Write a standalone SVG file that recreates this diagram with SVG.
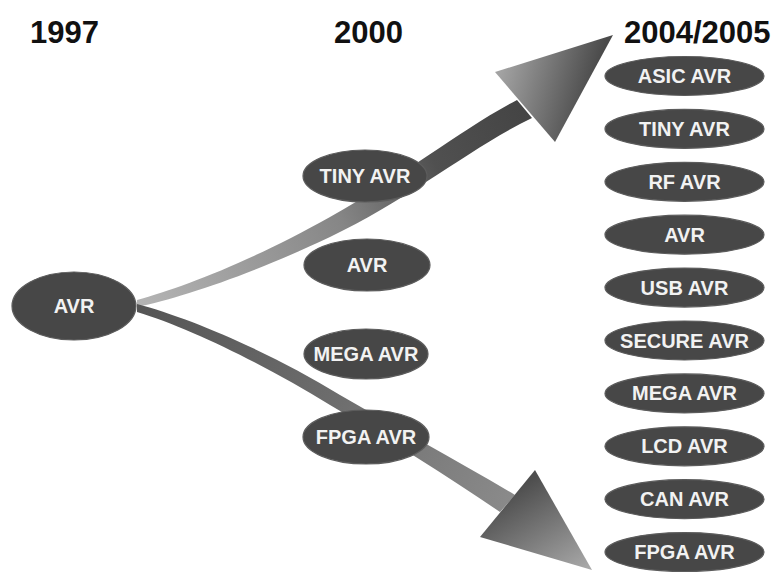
<svg xmlns="http://www.w3.org/2000/svg" width="774" height="572" viewBox="0 0 774 572">
<defs>
<linearGradient id="gUpShaft" gradientUnits="userSpaceOnUse" x1="137" y1="300" x2="530" y2="110">
<stop offset="0" stop-color="#b4b4b4"/>
<stop offset="0.5" stop-color="#868686"/>
<stop offset="0.75" stop-color="#505050"/>
<stop offset="1" stop-color="#444444"/>
</linearGradient>
<linearGradient id="gUpHead" gradientUnits="userSpaceOnUse" x1="500" y1="75" x2="590" y2="100">
<stop offset="0" stop-color="#a2a2a2"/>
<stop offset="1" stop-color="#4a4a4a"/>
</linearGradient>
<linearGradient id="gLoShaft" gradientUnits="userSpaceOnUse" x1="137" y1="308" x2="510" y2="500">
<stop offset="0" stop-color="#555555"/>
<stop offset="0.5" stop-color="#6c6c6c"/>
<stop offset="1" stop-color="#8a8a8a"/>
</linearGradient>
<linearGradient id="gLoHead" gradientUnits="userSpaceOnUse" x1="530" y1="480" x2="585" y2="570">
<stop offset="0" stop-color="#4e4e4e"/>
<stop offset="1" stop-color="#a8a8a8"/>
</linearGradient>
</defs>
<style>
.year{font-family:"Liberation Sans",Arial,sans-serif;font-weight:bold;font-size:31px;fill:#111}
.node ellipse{fill:#474747;stroke:#5c5c5c;stroke-width:1.2}
.node text{font-family:"Liberation Sans",Arial,sans-serif;font-weight:bold;font-size:20px;fill:#f2f2f2;text-anchor:middle}
</style>
<rect width="774" height="572" fill="#ffffff"/>
<g id="years">
<text class="year" x="30" y="43">1997</text>
<text class="year" x="334" y="43">2000</text>
<text class="year" x="624" y="43">2004/2005</text>
</g>
<g id="connectors">
<path d="M137,300 C180,288 250,262 330,217 C410,172 460,130 517,100 L532,118 C470,148 410,199 330,237 C250,275 180,298 137,307 Z" fill="url(#gUpShaft)"/>
<polygon points="613,35 495,72 555,142" fill="url(#gUpHead)"/>
<path d="M137,304 C190,318 270,352 340,395 C400,430 460,462 515,495 L500,512 C450,478 390,440 330,405 C265,365 190,328 137,312 Z" fill="url(#gLoShaft)"/>
<polygon points="592,570 535,470 480,537" fill="url(#gLoHead)"/>
</g>
<g id="n-avr1997" class="node"><ellipse cx="74" cy="306" rx="62" ry="34"/><text x="74" y="313">AVR</text></g>
<g id="n-tiny2000" class="node"><ellipse cx="365" cy="176" rx="62" ry="26"/><text x="365" y="183">TINY AVR</text></g>
<g id="n-avr2000" class="node"><ellipse cx="367" cy="265" rx="63" ry="26"/><text x="367" y="272">AVR</text></g>
<g id="n-mega2000" class="node"><ellipse cx="366" cy="354" rx="62" ry="25"/><text x="366" y="361">MEGA AVR</text></g>
<g id="n-fpga2000" class="node"><ellipse cx="366" cy="437" rx="63" ry="27"/><text x="366" y="444">FPGA AVR</text></g>
<g id="n-asic" class="node"><ellipse cx="684.5" cy="76" rx="79.5" ry="19.5"/><text x="684.5" y="83">ASIC AVR</text></g>
<g id="n-tiny" class="node"><ellipse cx="684.5" cy="128.9" rx="79.5" ry="19.5"/><text x="684.5" y="135.9">TINY AVR</text></g>
<g id="n-rf" class="node"><ellipse cx="684.5" cy="181.8" rx="79.5" ry="19.5"/><text x="684.5" y="188.8">RF AVR</text></g>
<g id="n-avr" class="node"><ellipse cx="684.5" cy="234.7" rx="79.5" ry="19.5"/><text x="684.5" y="241.7">AVR</text></g>
<g id="n-usb" class="node"><ellipse cx="684.5" cy="287.6" rx="79.5" ry="19.5"/><text x="684.5" y="294.6">USB AVR</text></g>
<g id="n-secure" class="node"><ellipse cx="684.5" cy="340.5" rx="79.5" ry="19.5"/><text x="684.5" y="347.5">SECURE AVR</text></g>
<g id="n-mega" class="node"><ellipse cx="684.5" cy="393.4" rx="79.5" ry="19.5"/><text x="684.5" y="400.4">MEGA AVR</text></g>
<g id="n-lcd" class="node"><ellipse cx="684.5" cy="446.3" rx="79.5" ry="19.5"/><text x="684.5" y="453.3">LCD AVR</text></g>
<g id="n-can" class="node"><ellipse cx="684.5" cy="499.2" rx="79.5" ry="19.5"/><text x="684.5" y="506.2">CAN AVR</text></g>
<g id="n-fpga" class="node"><ellipse cx="684.5" cy="552.1" rx="79.5" ry="19.5"/><text x="684.5" y="559.1">FPGA AVR</text></g>
</svg>
